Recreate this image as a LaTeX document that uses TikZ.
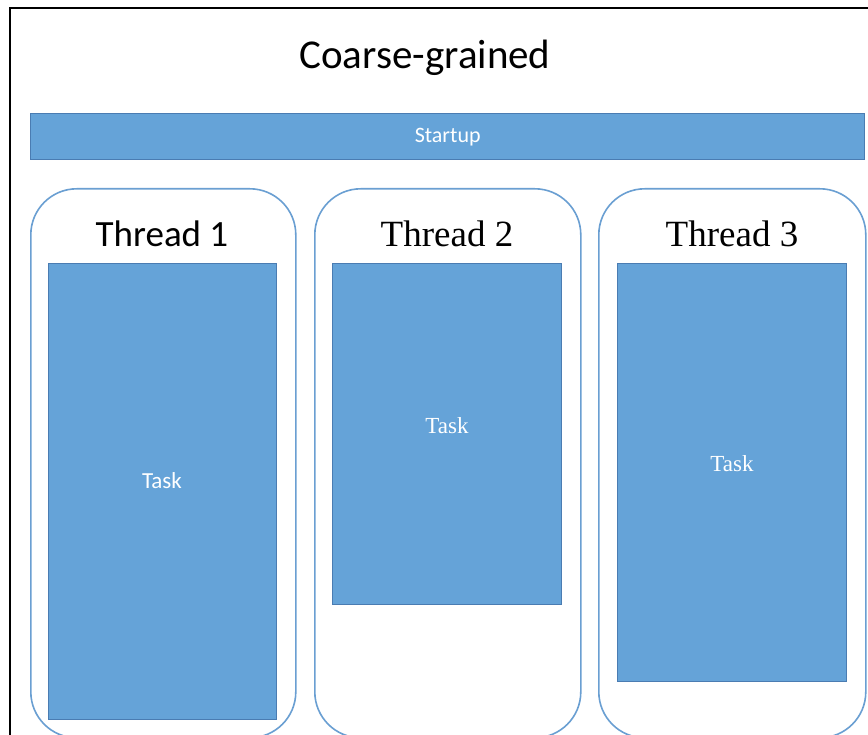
\documentclass[tikz,border=0pt]{standalone}
\usepackage{fontspec}
\setmainfont{Carlito}
\newfontfamily\serifface{Liberation Serif}
\definecolor{taskfill}{HTML}{65A3D8}
\definecolor{taskedge}{HTML}{4A7CB2}
\definecolor{threadedge}{HTML}{6A9FD2}
\tikzset{
  taskbox/.style={draw=taskedge, fill=taskfill, line width=1.4pt, anchor=north west, inner sep=0pt},
  threadbox/.style={draw=threadedge, line width=1.6pt, rounded corners=46pt, anchor=north west, inner sep=0pt},
  lbl/.style={text=white, font=\fontsize{23}{25}\selectfont},
  hdr/.style={text=black, font=\fontsize{37}{40}\selectfont},
}
\begin{document}
\begin{tikzpicture}[x=1pt,y=-1pt]
\useasboundingbox (0,0) rectangle (868,735);
\clip (0,0) rectangle (868,735);
\fill[white] (0,0) rectangle (868,735);
\draw[black, line width=1.2pt] (10,8) rectangle (880,760);
\node[text=black, font=\fontsize{41}{44}\selectfont] (title) at (425,58) {Coarse-grained};
\node[taskbox, minimum width=834pt, minimum height=46pt] (startup) at (30,113) {};
\node[text=white, font=\fontsize{22}{24}\selectfont] (startuplbl) at (startup.center) {Startup};
% threads
\node[threadbox, minimum width=265pt, minimum height=549pt] (th1) at (30,188) {};
\node[threadbox, minimum width=266pt, minimum height=549pt] (th2) at (314,188) {};
\node[threadbox, minimum width=267pt, minimum height=549pt] (th3) at (598,188) {};
\node[hdr] (h1) at (162,234) {Thread 1};
\node[hdr, font=\serifface\fontsize{37}{40}\selectfont] (h2) at (447,234) {Thread 2};
\node[hdr, font=\serifface\fontsize{37}{40}\selectfont] (h3) at (732,234) {Thread 3};
% tasks
\node[taskbox, minimum width=228pt, minimum height=456pt] (t1) at (48,263) {};
\node[taskbox, minimum width=229pt, minimum height=341pt] (t2) at (332,263) {};
\node[taskbox, minimum width=229pt, minimum height=418pt] (t3) at (617,263) {};
\node[lbl] (l1) at (162,481) {Task};
\node[lbl, font=\serifface\fontsize{23}{25}\selectfont] (l2) at (447,426) {Task};
\node[lbl, font=\serifface\fontsize{23}{25}\selectfont] (l3) at (732,464) {Task};
\end{tikzpicture}
\end{document}
